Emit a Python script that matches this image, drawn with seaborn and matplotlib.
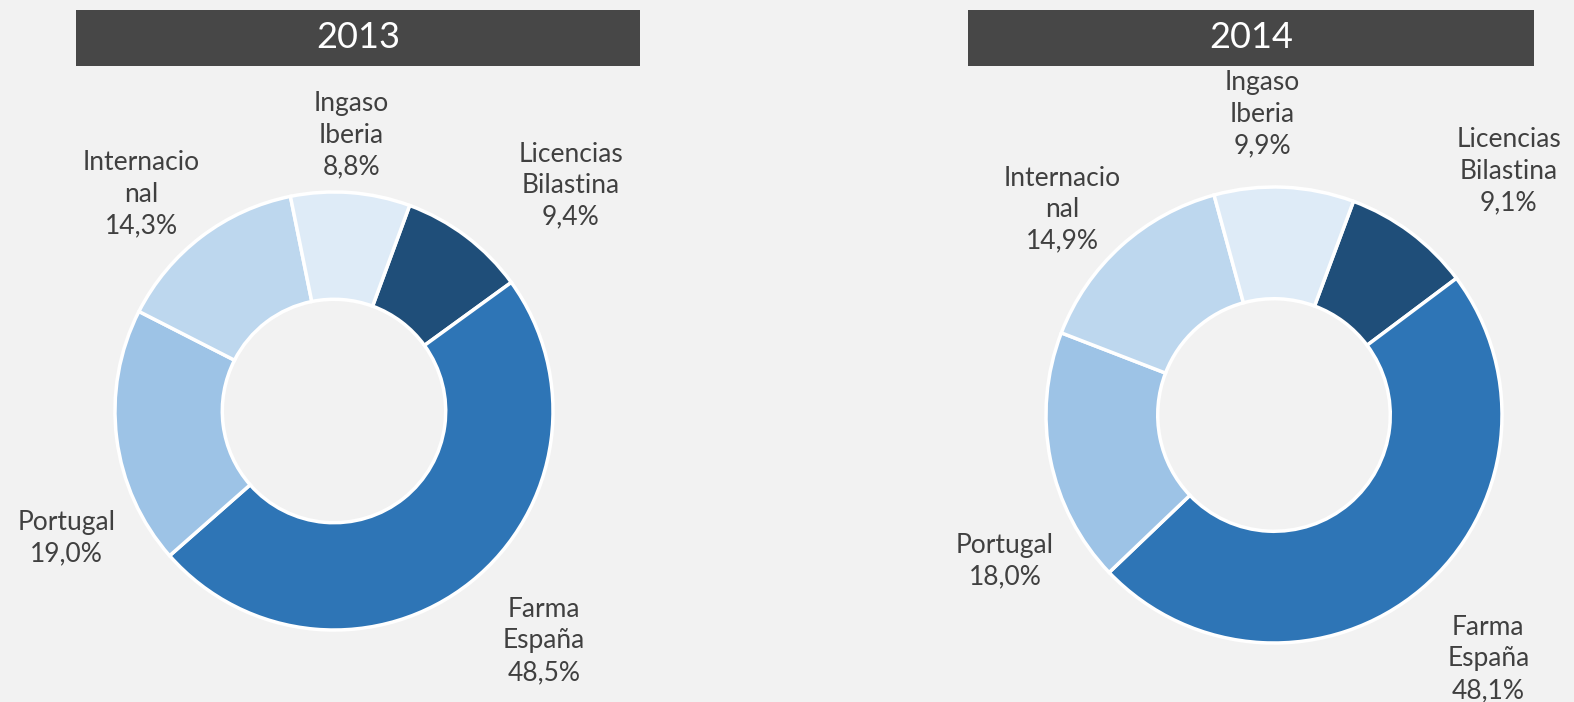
import matplotlib
matplotlib.use("Agg")
import matplotlib.pyplot as plt
from matplotlib.patches import Rectangle
import seaborn as sns

# chart data
segments = ["Licencias\nBilastina", "Farma\nEspaña", "Portugal", "Internacio\nnal", "Ingaso\nIberia"]
share_2013 = [9.4, 48.5, 19.0, 14.3, 8.8]
share_2014 = [9.1, 48.1, 18.0, 14.9, 9.9]
years = ["2013", "2014"]

colors = ["#1f4e79", "#2e75b6", "#9dc3e6", "#bdd7ee", "#deebf7"]
bg = "#f2f2f2"
text_col = "#404040"

sns.set_theme(style="white")
plt.rcParams["font.family"] = ["Lato", "DejaVu Sans"]

W, H = 1574, 702
fig = plt.figure(figsize=(W / 100, H / 100), dpi=100, facecolor=bg)
ax = fig.add_axes([0, 0, 1, 1])
ax.set_facecolor(bg)

# layout for each donut: center (px from left, px from top), radius, explode, start angle
layouts = [
    dict(center=(334, 411), radius=219, explode=0.02, start=69.8,
         box=(76, 640),
         label_pos=[(1.08, 1.03), (0.96, -1.05), (-1.22, -0.58), (-0.88, 0.99), (0.08, 1.26)]),
    dict(center=(1274, 415), radius=228, explode=0.0, start=69.6,
         box=(968, 1534),
         label_pos=[(1.03, 1.07), (0.94, -1.07), (-1.18, -0.64), (-0.93, 0.90), (-0.05, 1.32)]),
]


def fmt_label(name, value):
    return f"{name}\n{value:.1f}%".replace(".", ",")


for year, values, lay in zip(years, [share_2013, share_2014], layouts):
    cx, cy = lay["center"][0], H - lay["center"][1]
    r = lay["radius"]
    ax.pie(values, colors=colors, center=(cx, cy), radius=r,
           startangle=lay["start"], counterclock=False,
           explode=[lay["explode"]] * len(values),
           wedgeprops=dict(width=0.49 * r, edgecolor="white", linewidth=2.5),
           frame=True)

    for name, v, (lx, ly) in zip(segments, values, lay["label_pos"]):
        ax.text(cx + lx * r, cy + ly * r, fmt_label(name, v), ha="center", va="center",
                fontsize=19, color=text_col, linespacing=1.32)

    x0, x1 = lay["box"]
    ax.add_patch(Rectangle((x0, H - 66), x1 - x0, 56, facecolor="#474747",
                           edgecolor="none", zorder=3))
    ax.text((x0 + x1) / 2, H - 38, year, ha="center", va="center",
            fontsize=26, color="white", zorder=4)

ax.set_xlim(0, W)
ax.set_ylim(0, H)
ax.set_aspect("equal")
ax.axis("off")

fig.savefig("out.png", dpi=100, facecolor=bg)
